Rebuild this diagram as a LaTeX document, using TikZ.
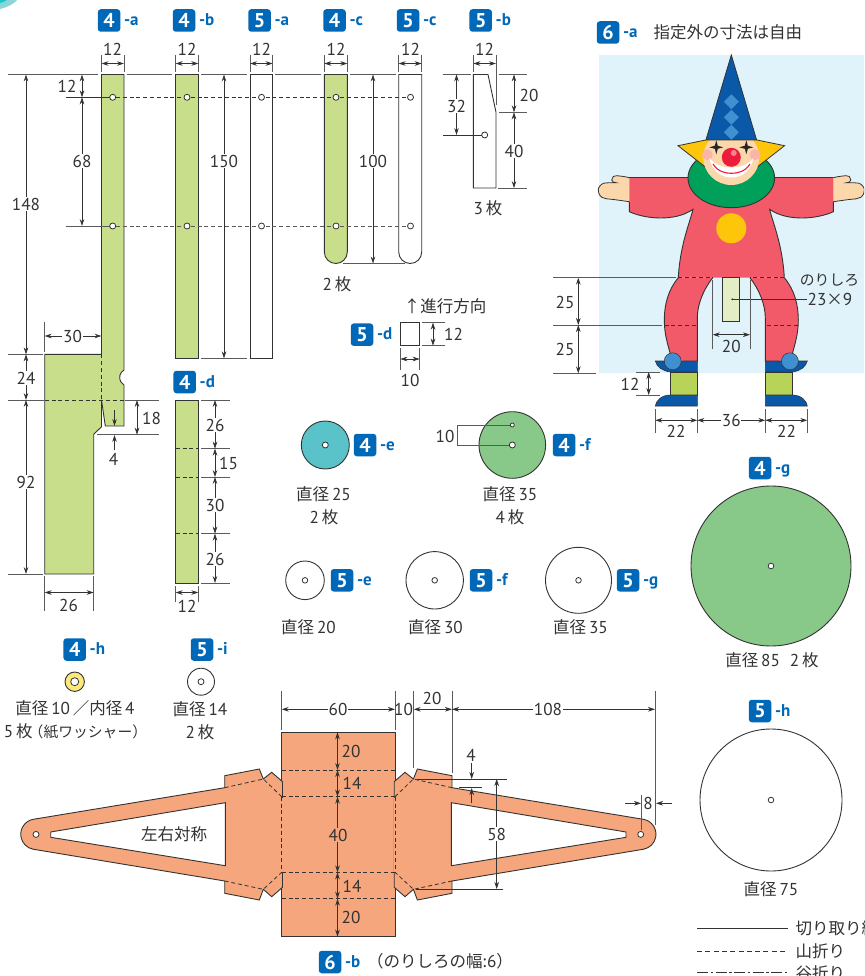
\documentclass[tikz,border=0pt]{standalone}
\usepackage{fontspec}
\setmainfont{PT Sans}
\newfontfamily\cjk{Noto Sans CJK JP}
\usetikzlibrary{arrows.meta}
\definecolor{ink}{HTML}{333333}
\definecolor{ext}{HTML}{5A5A5A}
\definecolor{badgeblue}{HTML}{0068B7}
\definecolor{lime}{HTML}{C9DE8A}
\definecolor{orangepaper}{HTML}{F5A67C}
\definecolor{greenpaper}{HTML}{88C888}
\definecolor{tealpaper}{HTML}{59C3C9}
\definecolor{sky}{HTML}{E0F2FA}
\definecolor{suit}{HTML}{F25A6A}
\definecolor{skin}{HTML}{FDD7AC}
\definecolor{navy}{HTML}{0A58A8}
\definecolor{sunny}{HTML}{FDC60B}
\definecolor{ballblue}{HTML}{408FD0}
\definecolor{collar}{HTML}{00A05A}
\definecolor{shin}{HTML}{B8D458}
\definecolor{cheek}{HTML}{F9B5A7}
\definecolor{nosered}{HTML}{EE1C3C}
\definecolor{washer}{HTML}{FBE97C}
\newcounter{labc}
\tikzset{
  lbl/.style={text=ink,inner sep=0.8pt,font=\fontsize{17.2}{18}\selectfont},
  badgebox/.style={fill=badgeblue,rounded corners=3pt,minimum width=22.5pt,minimum height=22.5pt,inner sep=0,text=white,font=\fontsize{20}{20}\selectfont\bfseries},
  badgetail/.style={text=badgeblue,inner sep=0,anchor=base west,font=\fontsize{17}{17}\selectfont\bfseries},
  extline/.style={draw=ext,line width=0.8pt},
  dimline/.style={draw=ink,line width=0.7pt,{Stealth[length=7pt,width=4.6pt]}-{Stealth[length=7pt,width=4.6pt]}},
  onearrow/.style={draw=ink,line width=0.7pt,-{Stealth[length=7pt,width=4.6pt]}},
  cutline/.style={draw=ink,line width=0.9pt},
  foldline/.style={draw=ink,line width=0.8pt,dash pattern=on 4pt off 2.8pt},
  holemark/.style={draw=ink,line width=0.8pt,fill=white},
}
\newcommand{\lab}[4][]{\stepcounter{labc}\node[lbl,#1] (L\thelabc) at (#2,#3) {#4};}
\newcommand{\badge}[5]{\node[badgebox] (B#1) at (#2,#3) {#4};\node[badgetail] (T#1) at (#2+14.8,#3+5.2) {-#5};}
\newcommand{\dimV}[3]{\draw[dimline] (#1,#2) -- (#1,#3);}
\newcommand{\dimH}[3]{\draw[dimline] (#2,#1) -- (#3,#1);}
\newcommand{\extH}[3]{\draw[extline] (#2,#1) -- (#3,#1);}
\newcommand{\extV}[3]{\draw[extline] (#1,#2) -- (#1,#3);}
\newcommand{\hole}[3]{\draw[holemark] (#1,#2) circle (#3);}
\newcommand{\jp}[1]{{\cjk\fontsize{16.5}{18}\selectfont #1}}
\newcommand{\jpk}[1]{{\cjk\fontsize{14.8}{18}\selectfont #1}}
\newcommand{\wingpart}{%
  \draw[cutline,fill=orangepaper,even odd rule]
    (282.5,781.7) -- (271.7,772.3) -- (263.3,779) -- (259.3,769) -- (224.7,775.7) -- (224.7,787.7)
    -- (33.3,819.3) arc[start angle=-100,end angle=-260,radius=15.2] -- (224.7,881) -- (224.7,893.3)
    -- (259.3,900) -- (263.3,889.3) -- (271.7,896.7) -- (282.5,887.3) -- cycle
    (225.3,802.7) -- (225.3,865.7) -- (50.7,837.3) -- (50.7,832) -- cycle;
  \draw[foldline] (224.7,787.7) -- (263.3,779) -- (281.7,796.7);
  \draw[foldline] (224.7,881) -- (263.3,889.3) -- (281.7,872.3);
  \hole{36}{834.4}{3}
}
\newcommand{\clownhalf}{%
  \fill[skin] (629.3,177.7) .. controls (625,176.5) and (620,176) .. (616.7,175.7) .. controls (614,175) and (612,177) .. (611.7,180) .. controls (612,182) and (614,182.5) .. (616,182.7) .. controls (610,182.5) and (605,183) .. (603.3,183.3) .. controls (600,185) and (598,188) .. (598.3,190) .. controls (598.5,194) and (600,196) .. (601.7,197.3) .. controls (605,199) and (608,199) .. (611.7,199.3) .. controls (618,200) and (624,201) .. (629.3,201.7) -- cycle;
  \draw[ink,line width=0.8pt] (629.3,177.7) .. controls (625,176.5) and (620,176) .. (616.7,175.7) .. controls (614,175) and (612,177) .. (611.7,180) .. controls (612,182) and (614,182.5) .. (616,182.7) .. controls (610,182.5) and (605,183) .. (603.3,183.3) .. controls (600,185) and (598,188) .. (598.3,190) .. controls (598.5,194) and (600,196) .. (601.7,197.3) .. controls (605,199) and (608,199) .. (611.7,199.3) .. controls (618,200) and (624,201) .. (629.3,201.7);
  \fill[suit] (732,170) -- (690,177.7) -- (629.3,177.7) -- (629.3,211.7) .. controls (645,219) and (675,222) .. (693,209.3) .. controls (690,222) and (680,245) .. (678.3,277.7) -- (732,277.7) -- cycle;
  \draw[ink,line width=0.9pt] (695,177.7) -- (629.3,177.7);
  \draw[ink,line width=0.9pt] (629.3,201.7) -- (629.3,211.7) .. controls (645,219) and (675,222) .. (693,209.3) .. controls (690,222) and (680,245) .. (678.3,277.7);
  \fill[suit] (678.3,277.7) .. controls (668,290) and (664.3,305) .. (664.3,320) .. controls (664.3,335) and (668,345) .. (672,360) -- (697.3,361.7) -- (697.3,318) .. controls (697.3,305) and (703,290) .. (712.7,277.7) -- cycle;
  \draw[ink,line width=0.9pt] (678.3,277.7) .. controls (668,290) and (664.3,305) .. (664.3,320) .. controls (664.3,335) and (668,345) .. (672,360);
  \draw[ink,line width=0.9pt] (697.3,361.7) -- (697.3,318) .. controls (697.3,305) and (703,290) .. (712.7,277.7);
  \draw[ink,line width=0.6pt,fill=navy] (655.3,361) -- (697.3,361) -- (697.3,372) -- (670.7,372) .. controls (662,371) and (657,367) .. (655.3,361) -- cycle;
  \draw[ink,line width=0.6pt,fill=shin] (670.7,372) rectangle (697.3,395);
  \draw[ink,line width=0.6pt,fill=navy] (670.7,395) .. controls (661,395) and (656,401) .. (655.3,406) -- (697.3,406) -- (697.3,395) -- cycle;
  \draw[ink,line width=0.5pt,fill=ballblue] (672.7,361.3) circle (8.5);
  \draw[foldline] (678.3,277.7) -- (712.7,277.7);
  \draw[foldline] (664.6,325) -- (697.3,325);
}
\newcommand{\fourstar}[2]{\fill[black!85] (#1,#2-7) -- (#1+1.5,#2-1.5) -- (#1+7,#2) -- (#1+1.5,#2+1.5) -- (#1,#2+7) -- (#1-1.5,#2+1.5) -- (#1-7,#2) -- (#1-1.5,#2-1.5) -- cycle;}
\newcommand{\kite}[2]{\fill[ballblue] (#1,#2-7.5) -- (#1+7.5,#2) -- (#1,#2+7.5) -- (#1-7.5,#2) -- cycle;}
\begin{document}
\begin{tikzpicture}[x=1pt,y=-1pt]
\useasboundingbox (0,0) rectangle (864,976);
\clip (0,0) rectangle (864,976);
\fill[white] (0,0) rectangle (864,976);
% corner arc
\fill[tealpaper!70] (0,-1) -- (18,-1) .. controls (14,4) and (8,7) .. (0,9) -- cycle;
\fill[tealpaper!60!black!40!cyan] (0,-1) -- (8,-1) .. controls (6,1) and (3,2.5) .. (0,3) -- cycle;
% badges top row
\badge{fa}{109}{20.5}{4}{a}
\badge{fb}{184}{20.5}{4}{b}
\badge{va}{259.5}{20.5}{5}{a}
\badge{fc}{334.5}{20.5}{4}{c}
\badge{vc}{408}{20.5}{5}{c}
\badge{vb}{480.7}{20.5}{5}{b}
% strips
\draw[cutline,fill=lime] (101.5,74.5) -- (124,74.5) -- (124,370) arc[start angle=240,end angle=120,radius=8.7] -- (124,426) -- (105.3,426) -- (101.5,400) -- (101.5,426.7) -- (93.7,434.3) -- (93.7,574) -- (44.7,574) -- (44.7,354.3) -- (101.5,354.3) -- cycle;
\draw[foldline] (101.5,354.3) -- (101.5,400);
\draw[foldline] (44.7,400) -- (124,400);
\draw[cutline,fill=lime] (175.7,74.5) rectangle (198.3,358.3);
\draw[cutline] (250,74.5) rectangle (272.7,358.3);
\draw[cutline,fill=lime] (324.3,74.5) -- (347.3,74.5) -- (347.3,252) arc[start angle=0,end angle=180,radius=11.5] -- cycle;
\draw[cutline] (398.7,74.5) -- (421.7,74.5) -- (421.7,252) arc[start angle=0,end angle=180,radius=11.5] -- cycle;
\draw[cutline] (473.3,74.5) -- (488,74.5) -- (496,112.3) -- (496,188) -- (473.3,188) -- cycle;
% base lines
\extH{74.5}{8}{98}\extH{74.5}{127}{172}\extH{74.5}{201}{247}\extH{74.5}{275}{321}\extH{74.5}{350}{396}\extH{74.5}{443}{471}\extH{74.5}{499}{527}
% hole lines
\draw[ink,line width=0.8pt] (66,97.3) -- (110,97.3);
\draw[ext,line width=0.8pt] (66,226) -- (110,226);
\draw[foldline] (116,97.3) -- (407,97.3);
\draw[foldline,draw=ext] (116,226) -- (407,226);
\foreach \hx in {112.7,187,261.5,336,410.5}{\hole{\hx}{97.3}{3}\hole{\hx}{226}{3}}
% width dims
\foreach \xa/\xb in {101.5/124,175.7/198.3,250/272.7,324.3/347.3,398.7/421.7,473.3/496}{
  \extV{\xa}{55}{72}\extV{\xb}{55}{72}\dimH{63.5}{\xa}{\xb}}
\extV{496}{72}{105}
\lab{112.5}{49}{12}\lab{187}{49}{12}\lab{261.5}{49}{12}\lab{336}{49}{12}\lab{410.5}{49}{12}\lab{484.5}{49}{12}
% left dims of 4-a
\dimV{26}{74.5}{354.3}\lab[fill=white]{26}{204}{148}
\dimV{82}{74.5}{97.3}\lab{67}{86}{12}
\dimV{82}{97.3}{226}\lab[fill=white]{82}{161}{68}
\extH{354.3}{8}{43}\extH{400}{8}{44}\extH{574}{8}{43}\extH{400}{125}{159}\extH{434.7}{97}{159}
\dimV{26}{354.3}{400}\lab[fill=white]{26}{378}{24}
\dimV{26}{400}{574}\lab[fill=white]{26}{482}{92}
\dimV{137}{400}{434.7}\lab{151.5}{418}{18}
\draw[onearrow] (114.5,410) -- (114.5,426);
\draw[onearrow] (114.5,450) -- (114.5,435);
\lab{113.5}{459}{4}
\extV{44.7}{322}{352}
\dimH{336}{44.7}{101.5}\lab[fill=white]{72.5}{336}{30}
\extV{44.7}{576}{611}\extV{93.7}{576}{611}\dimH{592.5}{44.7}{93.7}\lab{68.5}{605}{26}
% 150, 100
\dimV{224}{74.5}{358.3}\lab[fill=white]{224}{161}{150}\extH{358.3}{201}{247}
\dimV{373}{74.5}{263.5}\lab[fill=white]{373}{161}{100}\extH{263.5}{343}{405}
\lab{337}{284}{2\,\jp{枚}}
% 5-b dims
\hole{484.7}{135}{3}
\draw[ink,line width=0.8pt] (443,135) -- (481.7,135);
\dimV{456.5}{74.5}{135}\lab[fill=white]{456.5}{106}{32}
\dimV{514}{74.5}{112.3}\lab{529}{95}{20}
\dimV{514}{112.3}{188}\lab[fill=white]{514}{151}{40}
\extH{112.3}{499}{527}\extH{188}{498}{527}
\lab{488}{208}{3\,\jp{枚}}
% 4-d
\badge{fd}{184.7}{382}{4}{d}
\draw[cutline,fill=lime] (175.7,400) rectangle (198.3,583);
\foreach \fy in {448.7,477,533.7}{\draw[foldline] (175.7,\fy) -- (198.3,\fy);\extH{\fy}{201}{230}}
\extH{400}{201}{230}\extH{583}{201}{230}
\dimV{215}{400}{448.7}\lab[fill=white]{215}{425}{26}
\dimV{215}{448.7}{477}\lab{228.5}{463}{15}
\dimV{215}{477}{533.7}\lab[fill=white]{215}{505}{30}
\dimV{215}{533.7}{583}\lab[fill=white]{215}{559}{26}
\extV{175.7}{586}{602}\extV{198.3}{586}{602}\dimH{592.5}{175.7}{198.3}\lab{187}{606}{12}
% 5-d
\badge{vd}{362}{334.7}{5}{d}
\draw[cutline] (400.3,322.7) rectangle (419.7,345.7);
\lab{445}{306.7}{\jp{↑進行方向}}
\extH{322.7}{422}{445}\extH{345.7}{422}{445}\dimV{433}{322.7}{345.7}\lab{453.5}{334.5}{12}
\extV{400.3}{348}{370}\extV{419.7}{348}{370}\dimH{359}{400.3}{419.7}\lab{410}{380}{10}
% disks
\draw[cutline,fill=tealpaper] (325.3,445) circle (24);\hole{325.3}{445}{3}
\badge{fe}{365}{445}{4}{e}
\lab{323.5}{494}{\jp{直径}\,25}\lab{324}{517}{2\,\jp{枚}}
\draw[cutline,fill=greenpaper] (512.3,445) circle (33.3);
\draw[ext,line width=0.9pt] (509.5,425) -- (457.7,425) -- (457.7,445) -- (509,445);
\hole{512.3}{425}{2}\hole{512.3}{445}{3}
\lab{445}{436}{10}
\badge{ff}{564}{445}{4}{f}
\lab{510}{494}{\jp{直径}\,35}\lab{510}{517}{4\,\jp{枚}}
\draw[cutline] (305,580.3) circle (19.3);\hole{305}{580.3}{2.8}
\badge{ve}{342}{580.3}{5}{e}\lab{308.5}{627.7}{\jp{直径}\,20}
\draw[cutline] (434.7,580.3) circle (28.7);\hole{434.7}{580.3}{2.8}
\badge{vf}{481}{580.3}{5}{f}\lab{435.5}{627.7}{\jp{直径}\,30}
\draw[cutline] (578.5,580.3) circle (33);\hole{578.5}{580.3}{2.8}
\badge{vg}{628}{580.3}{5}{g}\lab{580.5}{627.7}{\jp{直径}\,35}
\badge{fg}{760}{468}{4}{g}
\draw[cutline,fill=greenpaper] (771,566) circle (80);\hole{771}{566}{2.8}
\lab{772}{660}{\jp{直径}\,85\hspace{10pt}2\,\jp{枚}}
\badge{vh}{760}{711}{5}{h}
\draw[cutline] (771,800) circle (71);\hole{771}{800}{2.8}
\lab{771}{889}{\jp{直径}\,75}
\badge{fh}{74.7}{649.5}{4}{h}
\draw[cutline,fill=washer] (74.7,681.7) circle (9.7);\hole{74.7}{681.7}{4}
\lab{75}{708}{\jp{直径}\,10\,\jp{／内径}\,4}\lab[anchor=west]{3}{731}{5\,\jp{枚}\hspace{-4pt}\jpk{（紙ワッシャー）}}
\badge{vi}{202}{649.5}{5}{i}
\draw[cutline] (201,681.7) circle (13.5);\hole{201}{681.7}{3}
\lab{200}{709}{\jp{直径}\,14}\lab{200}{732}{2\,\jp{枚}}
% 6-b
\draw[cutline,fill=orangepaper] (281.7,732.3) rectangle (395,936.7);
\wingpart
\begin{scope}[shift={(676.7,0)},xscale=-1]\wingpart\end{scope}
\fill[orangepaper] (280.9,797.5) rectangle (282.5,871.5);
\fill[orangepaper] (394.2,797.5) rectangle (395.8,871.5);
\foreach \fy in {770,796.7,872.3,898.7}{\draw[foldline] (281.7,\fy) -- (395,\fy);}
\draw[foldline] (281.7,796.7) -- (281.7,872.3);
\draw[foldline] (395,796.7) -- (395,872.3);
\lab{174}{834.3}{\jp{左右対称}}
\extV{281.7}{691}{730}\extV{395}{691}{730}\extV{413.7}{691}{768}\extV{452}{691}{773}\extV{655}{691}{825}
\dimH{709.3}{281.7}{395}\lab[fill=white]{338}{709.3}{60}
\lab{403.5}{709.3}{10}
\dimH{709.3}{413.7}{452}\lab{432}{698}{20}
\dimH{709.3}{452}{655}\lab[fill=white]{548}{709.3}{108}
\draw[onearrow] (625,803.3) -- (641,803.3);
\draw[onearrow] (672,803.3) -- (656,803.3);
\extV{641}{795}{830}\lab{648}{803.5}{8}
\draw[onearrow] (471.7,763) -- (471.7,779);
\draw[onearrow] (471.7,803) -- (471.7,788);
\draw[ink,line width=0.8pt] (417,779) -- (507,779);
\draw[ink,line width=0.8pt] (459,787.7) -- (482,787.7);
\draw[ink,line width=0.8pt] (416,889) -- (503,889);
\lab{471}{755}{4}
\dimV{496.7}{779}{889}\lab[fill=white]{496.7}{834}{58}
\dimV{337.5}{732.3}{770}\lab{351}{751}{20}
\dimV{337.5}{770}{796.7}\lab{352}{783.5}{14}
\dimV{337.5}{796.7}{872.3}\lab[fill=orangepaper]{338}{835}{40}
\dimV{337.5}{872.3}{898.7}\lab{352}{886}{14}
\dimV{337.5}{898.7}{936.7}\lab{351}{917.5}{20}
\badge{sb}{330}{962}{6}{b}
\lab{440}{961}{\jp{（のりしろの幅:}6\jp{）}}
% legend
\draw[ink,line width=0.8pt] (697,928) -- (788,928);
\draw[ink,line width=0.8pt,dash pattern=on 5pt off 3.3pt] (697,951) -- (788,951);
\draw[ink,line width=0.8pt,dash pattern=on 11pt off 2.5pt on 2.5pt off 2.5pt] (697,972.7) -- (788,972.7);
\lab[anchor=west]{794.5}{928}{\jp{切り取り線}}
\lab[anchor=west]{794.5}{951}{\jp{山折り}}
\lab[anchor=west]{794.5}{973.5}{\jp{谷折り}}
% 6-a clown
\badge{sa}{608}{32.5}{6}{a}
\lab[anchor=west]{652.7}{32.5}{\jp{指定外の寸法は自由}}
\fill[sky] (599,55) rectangle (864,373.3);
\clownhalf
\begin{scope}[shift={(1462.6,0)},xscale=-1]\clownhalf\end{scope}
\draw[ink,line width=0.9pt,fill=collar] (731.3,178) ellipse [x radius=43.3,y radius=29.7];
\fill[sunny] (705.7,140) -- (678,145.7) -- (705,166.7) -- (731,170) -- (757,166.7) -- (784.6,145.7) -- (756.9,140) -- cycle;
\draw[ink,line width=0.8pt] (705.7,140) -- (678,145.7) -- (705,166.7);
\draw[ink,line width=0.8pt] (756.9,140) -- (784.6,145.7) -- (757.6,166.7);
\fill[skin] (731.3,157.5) ellipse [x radius=28,y radius=27.5];
\fill[cheek] (707.3,154.7) circle (5.5);
\fill[cheek] (755,154.7) circle (5.5);
\draw[ink,line width=0.8pt,fill=navy] (731.3,55) -- (756.6,140) -- (705.9,140) -- cycle;
\kite{731.3}{101.7}\kite{731.3}{117.3}\kite{731.3}{132.3}
\fourstar{716.3}{147.3}\fourstar{746.3}{147.3}
\fill[white] (709.3,158) .. controls (712,172) and (722,177.5) .. (731.3,177.5) .. controls (741,177.5) and (751,172) .. (753.3,158) .. controls (749,164) and (741,167.5) .. (731.3,167.5) .. controls (722,167.5) and (714,164) .. (709.3,158) -- cycle;
\draw[nosered,line width=1.1pt] (713,164) .. controls (718,172) and (726,173.3) .. (731.3,173.3) .. controls (737,173.3) and (745,172) .. (750,164);
\fill[nosered] (731.3,157.3) circle (9.5);
\fill[nosered!55!white] (733.7,153) circle (3);
\fill[sunny] (731.3,228.3) circle (15);
% glue tab
\draw[ink,line width=0.8pt,fill=lime!50!white] (722.7,277.7) rectangle (739.7,321.3);
\fill[ink] (732.3,299.3) circle (1.1);
\draw[ink,line width=0.8pt] (732.3,299.3) -- (806.7,299.3);
\lab{829.5}{280}{\jpk{のりしろ}}
\lab{830}{299.5}{23\jp{×}9}
\extH{277.7}{553}{676}\extH{325}{553}{662}\extH{373.3}{553}{596}
\dimV{578.3}{277.7}{325}\dimV{578.3}{325}{373.3}
\lab{565}{302}{25}\lab{565}{349}{25}
\extH{372}{636}{660}\extH{395}{636}{660}\dimV{648.7}{372}{395}\lab{630}{384}{12}
\foreach \ex in {655.3,697.3,765.3,807.3}{\extV{\ex}{409}{433}}
\dimH{420.3}{655.3}{697.3}\dimH{420.3}{697.3}{765.3}\dimH{420.3}{765.3}{807.3}
\lab{676}{431}{22}\lab[fill=white]{731.3}{420}{36}\lab{786.5}{431}{22}
\extV{712.7}{280}{349}\extV{750}{280}{349}\dimH{334.7}{712.7}{750}\lab{731.3}{346.5}{20}
\end{tikzpicture}
\end{document}
